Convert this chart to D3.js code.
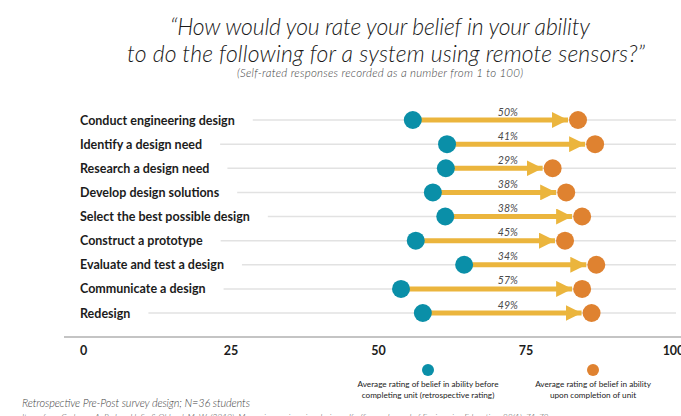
<!DOCTYPE html>
<html><head><meta charset="utf-8">
<script src="https://cdn.jsdelivr.net/npm/d3@7"></script>
<style>html,body{margin:0;padding:0;background:#fff;overflow:hidden}</style>
</head><body>
<svg id="c" width="681" height="416"></svg>
<script>
const categories = ["Conduct engineering design","Identify a design need","Research a design need","Develop design solutions","Select the best possible design","Construct a prototype","Evaluate and test a design","Communicate a design","Redesign"];
const before = [55.9, 61.7, 61.5, 59.3, 61.4, 56.4, 64.6, 53.9, 57.6];
const after  = [83.9, 86.8, 79.6, 81.9, 84.6, 81.7, 87.0, 84.6, 86.2];
const pctLabels = ["50%","41%","29%","38%","38%","45%","34%","57%","49%"];
const ticks = [0, 25, 50, 75, 100];
const titleLines = ["\u201CHow would you rate your belief in your ability","to do the following for a system using remote sensors?\u201D"];
const subtitle = "(Self-rated responses recorded as a number from 1 to 100)";
const legendLabels = [["Average rating of belief in ability before","completing unit (retrospective rating)"],["Average rating of belief in ability","upon completion of unit"]];
const notes = ["Retrospective Pre-Post survey design; N=36 students","Items from Carberry, A. R., Lee, H.-S., & Ohland, M. W. (2010). Measuring engineering design self-efficacy. Journal of Engineering Education, 99(1), 71-79."];

const TEAL = "#0a8fa8", ORANGE = "#df8230", GOLD = "#ebb53d";
const svg = d3.select("#c");
const font = "Lato, 'Open Sans', sans-serif";

const x = d3.scaleLinear().domain([0,100]).range([83,673]);
const y = d3.scalePoint().domain(categories).range([120,313]);

// title
const titleW = [420, 518];
svg.append("g").selectAll("text").data(titleLines).join("text")
  .attr("x", (d,i)=>i?386:380).attr("y",(d,i)=>35+i*27).attr("text-anchor","middle")
  .attr("textLength",(d,i)=>titleW[i]).attr("lengthAdjust","spacing")
  .style("font-family",font).style("font-style","italic").style("font-weight",300)
  .style("font-size","23px").attr("fill","#1a1a1a").text(d=>d);
svg.append("text").attr("x",380).attr("y",77).attr("text-anchor","middle")
  .attr("textLength",286).attr("lengthAdjust","spacing")
  .style("font-family",font).style("font-style","italic").style("font-weight",300)
  .style("font-size","11.5px").attr("fill","#444").text(subtitle);

// row labels + gridlines
const rows = svg.append("g");
categories.forEach(c=>{
  const t = rows.append("text").attr("x",80).attr("y",y(c)+4.5)
    .style("font-family",font).style("font-weight",700).style("font-size","12.5px")
    .attr("fill","#1c1c1c").text(c);
  const w = t.node().getComputedTextLength();
  rows.insert("line","text").attr("x1",80+w+18).attr("x2",676).attr("y1",y(c)).attr("y2",y(c))
    .attr("stroke","#e2e2e2").attr("stroke-width",1.5);
});

// arrow marker
svg.append("defs").append("marker").attr("id","ah").attr("viewBox","0 0 10 10")
  .attr("refX",10).attr("refY",5).attr("markerWidth",3.2).attr("markerHeight",3.2)
  .attr("markerUnits","strokeWidth").attr("orient","auto")
  .append("path").attr("d","M0,0 L10,5 L0,10 Z").attr("fill",GOLD);

const R = 9;
const data = categories.map((c,i)=>({c, b:before[i], a:after[i], p:pctLabels[i]}));
svg.append("g").selectAll("line").data(data).join("line")
  .attr("x1",d=>x(d.b)).attr("x2",d=>x(d.a)-R-1).attr("y1",d=>y(d.c)).attr("y2",d=>y(d.c))
  .attr("stroke",GOLD).attr("stroke-width",5).attr("marker-end","url(#ah)");
svg.append("g").selectAll("circle").data(data).join("circle")
  .attr("cx",d=>x(d.b)).attr("cy",d=>y(d.c)).attr("r",R).attr("fill",TEAL);
svg.append("g").selectAll("circle").data(data).join("circle")
  .attr("cx",d=>x(d.a)).attr("cy",d=>y(d.c)).attr("r",R).attr("fill",ORANGE);
svg.append("g").selectAll("text").data(data).join("text")
  .attr("x",x(72)).attr("y",d=>y(d.c)-4.5).attr("text-anchor","middle")
  .style("font-family",font).style("font-style","italic").style("font-size","10.5px")
  .attr("fill","#4a4a4a").text(d=>d.p);

// axis
const ax = svg.append("g").attr("transform","translate(0,337)")
  .call(d3.axisBottom(x).tickValues(ticks).tickSize(0).tickPadding(9).tickFormat(d3.format("d")));
ax.select(".domain").attr("d","M64,0H681").attr("stroke","#8a8a8a").attr("stroke-width",1.2);
ax.selectAll("text").style("font-family",font).style("font-weight",700).style("font-size","12.5px").attr("fill","#1c1c1c");

// legend
const lg = [{cx:428, col:TEAL, lines:legendLabels[0]},{cx:593, col:ORANGE, lines:legendLabels[1]}];
lg.forEach(l=>{
  svg.append("circle").attr("cx",l.cx).attr("cy",370).attr("r",6).attr("fill",l.col);
  l.lines.forEach((t,i)=>svg.append("text").attr("x",l.cx).attr("y",387+i*10.5).attr("text-anchor","middle")
    .style("font-family",font).style("font-size","8.2px").attr("fill","#222").text(t));
});

// notes
svg.append("text").attr("x",22).attr("y",407).attr("textLength",228).attr("lengthAdjust","spacing")
  .style("font-family",font).style("font-style","italic")
  .style("font-weight",300).style("font-size","11px").attr("fill","#444").text(notes[0]);
svg.append("text").attr("x",22).attr("y",420).style("font-family",font).style("font-style","italic")
  .style("font-weight",300).style("font-size","8.5px").attr("fill","#555").text(notes[1]);
</script>
</body></html>
